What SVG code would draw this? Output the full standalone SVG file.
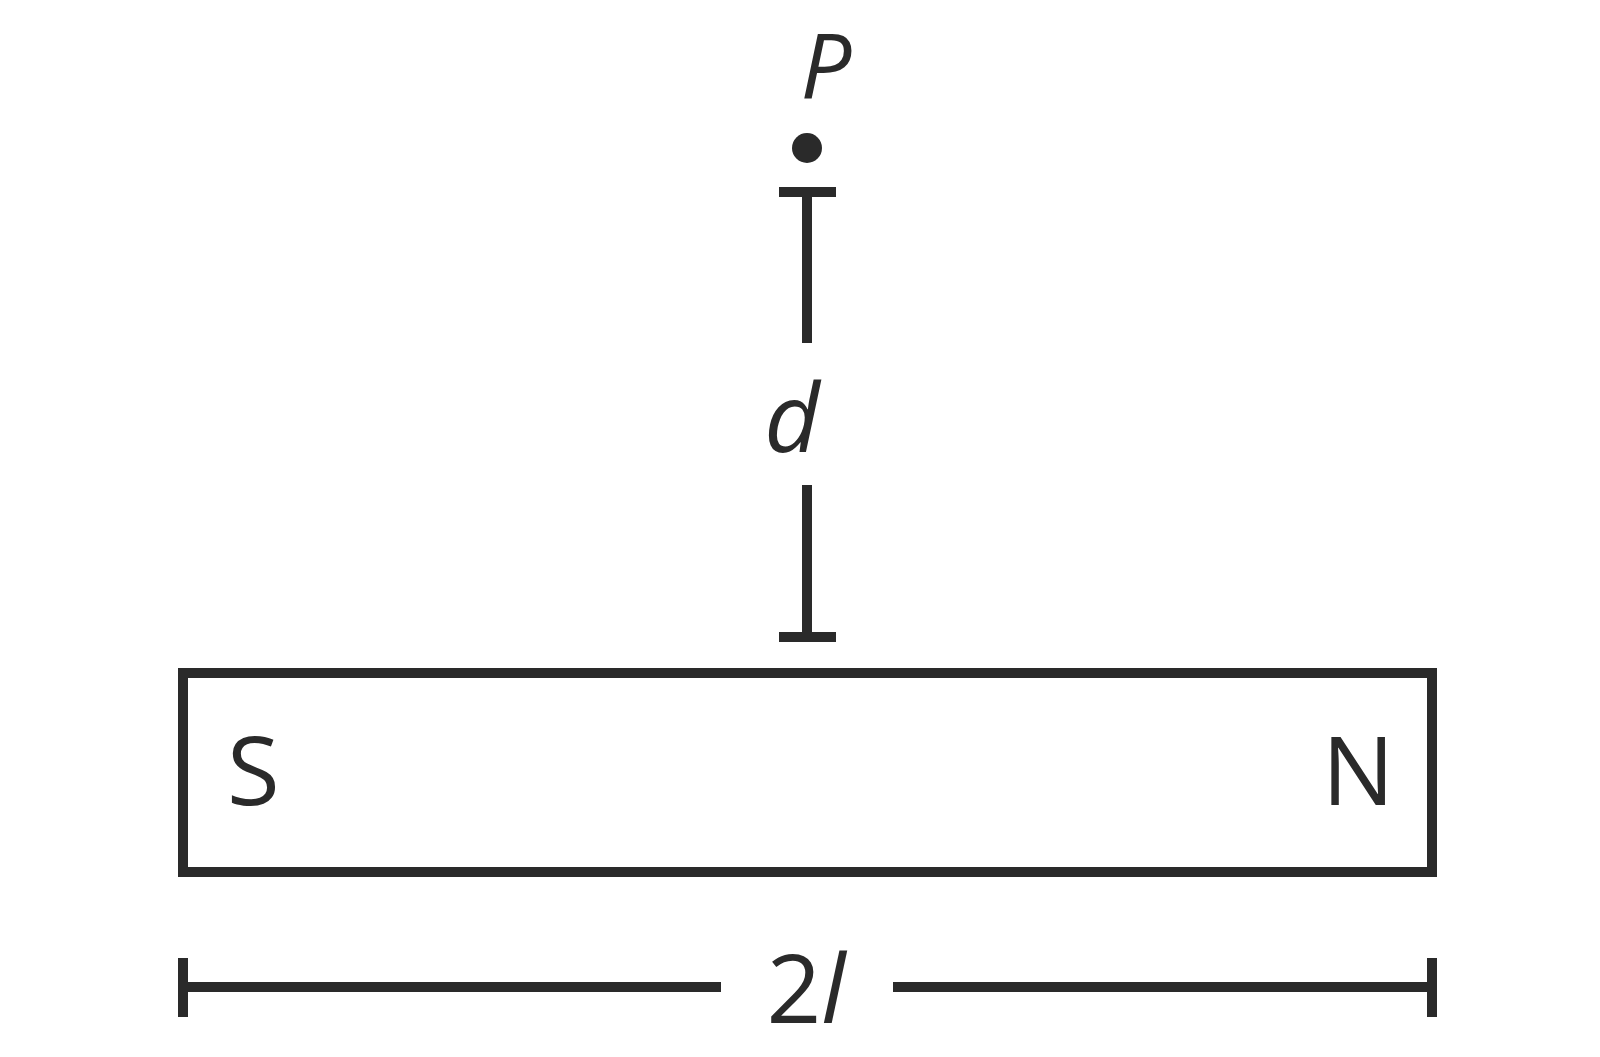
<svg xmlns="http://www.w3.org/2000/svg" width="1600" height="1057" viewBox="0 0 1600 1057">
<style>
.ln{stroke:#2a2a2a;stroke-width:10;fill:none;stroke-linecap:butt}
.t{font-family:"Open Sans","Noto Sans",sans-serif;fill:#2a2a2a;font-size:96px}
.it{font-style:italic}
</style>
<rect width="1600" height="1057" fill="#ffffff"/>
<g id="point-P">
<circle cx="807" cy="148" r="15" fill="#2a2a2a"/>
<text class="t it" x="826" y="98" text-anchor="middle" style="font-size:90px">P</text>
</g>
<g id="magnet">
<rect class="ln" x="183" y="673" width="1249" height="199"/>
<text class="t" x="227" y="805">S</text>
<text class="t" x="1322" y="805">N</text>
</g>
<g id="connectors">
<g id="dim-d">
<line class="ln" x1="779" y1="192" x2="836" y2="192"/>
<line class="ln" x1="807" y1="192" x2="807" y2="343"/>
<line class="ln" x1="807" y1="485" x2="807" y2="637"/>
<line class="ln" x1="779" y1="637" x2="836" y2="637"/>
<text class="t it" x="792" y="452" text-anchor="middle">d</text>
</g>
<g id="dim-2l">
<line class="ln" x1="183" y1="958" x2="183" y2="1017"/>
<line class="ln" x1="1432" y1="958" x2="1432" y2="1017"/>
<line class="ln" x1="183" y1="987" x2="721" y2="987"/>
<line class="ln" x1="893" y1="987" x2="1432" y2="987"/>
<text class="t" x="806" y="1023" text-anchor="middle">2<tspan class="it">l</tspan></text>
</g>
</g>
</svg>
